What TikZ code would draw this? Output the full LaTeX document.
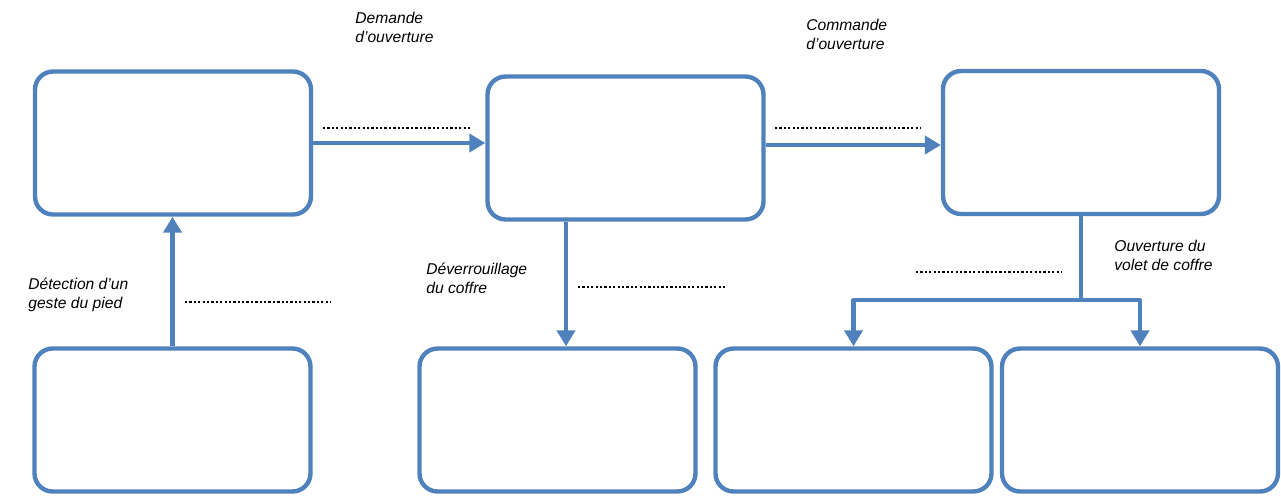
\documentclass[tikz,border=0pt]{standalone}
\usepackage{fontspec}
\setmainfont{Liberation Sans}
\usetikzlibrary{arrows.meta}
\definecolor{bleuBox}{RGB}{79,129,189}

\begin{document}
\begin{tikzpicture}[line join=round,x=0.02cm,y=-0.02cm,
	cadre/.style={draw=bleuBox,line width=2.5pt,rounded corners=0.36cm,minimum width=5.52cm,minimum height=2.86cm,inner sep=0pt},
	fleche/.style={draw=bleuBox,line width=2.3pt,-{Triangle[length=0.32cm,width=0.36cm]}},
	trait/.style={draw=bleuBox,line width=2.3pt},
	pointilles/.style={line width=1.4pt,dash pattern=on 1.3pt off 1.2pt},
	legende/.style={anchor=base west,align=left,inner sep=0pt,font=\fontsize{8.9}{10.8}\selectfont\itshape}]
	\useasboundingbox (0,0) rectangle (1281,495);
	% cadres du haut
	\node[cadre] (haut1) at (173,143) {};
	\node[cadre] (haut2) at (625.5,148) {};
	\node[cadre] (haut3) at (1081,142.5) {};
	% cadres du bas
	\node[cadre] (bas1) at (172.5,420) {};
	\node[cadre] (bas2) at (557.5,420) {};
	\node[cadre] (bas3) at (853.5,420) {};
	\node[cadre] (bas4) at (1140,420) {};
	% fleches
	\draw[fleche] (haut1.east) -- (haut1.east -| haut2.west);
	\draw[fleche] ([yshift=0.06cm]haut2.east) -- ([yshift=0.06cm]haut2.east -| haut3.west);
	\draw[fleche] (bas1.north) -- (bas1.north |- haut1.south);
	\draw[fleche] ([xshift=-1.19cm]haut2.south) -- ([xshift=-1.19cm]haut2.south |- bas2.north);
	\path (haut3.south) ++(0,84) coordinate (fourche);
	\draw[trait] (haut3.south) -- (fourche);
	\draw[fleche] (fourche) -| (bas3.north);
	\draw[fleche] (fourche) -| (bas4.north);
	% lignes a completer
	\draw[pointilles] (323,128) -- (470,128);
	\draw[pointilles] (775,128) -- (921,128);
	\draw[pointilles] (185,302) -- (330,302);
	\draw[pointilles] (578,287) -- (725,287);
	\draw[pointilles] (916,272) -- (1062,272);
	% legendes
	\node[legende] (demande) at (355,42) {Demande\\d’ouverture};
	\node[legende] (commande) at (806,49) {Commande\\d’ouverture};
	\node[legende] (detection) at (28,308) {Détection d’un\\geste du pied};
	\node[legende] (deverrou) at (426,293) {Déverrouillage\\du coffre};
	\node[legende] (volet) at (1114,270) {Ouverture du\\volet de coffre};
\end{tikzpicture}
\end{document}
